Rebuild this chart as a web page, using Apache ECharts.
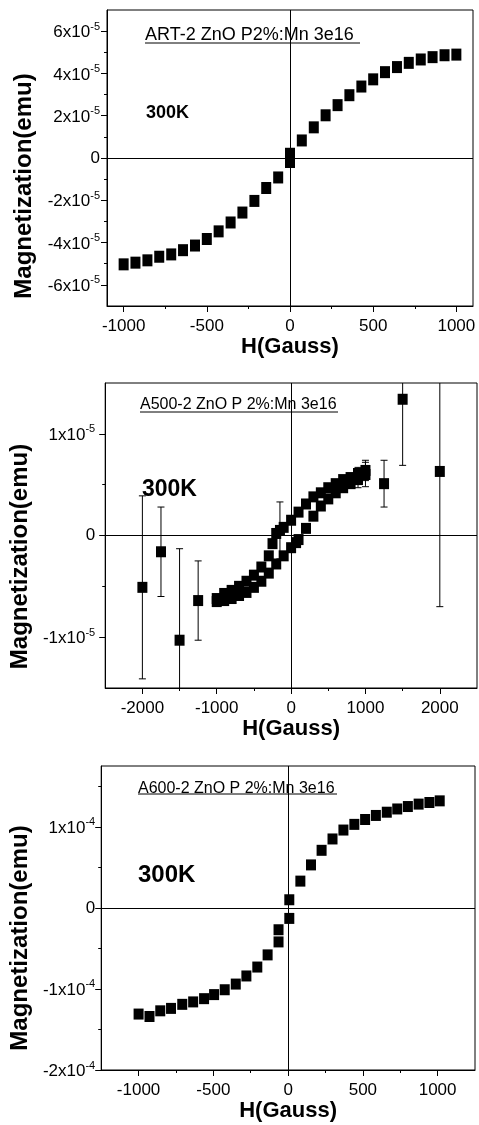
<!DOCTYPE html>
<html>
<head>
<meta charset="utf-8">
<script src="https://cdn.jsdelivr.net/npm/echarts@6/dist/echarts.min.js"></script>
<style>
 html, body { margin: 0; background: #fff; }
 #chart { width: 479px; height: 1125px; }
</style>
</head>
<body>
<div id="chart"></div>
<script>
const FONT = '"Liberation Sans", Arial, sans-serif'

// top panel: ART-2
const artH = [-1000, -929, -857, -786, -714, -643, -571, -500, -429, -357, -286, -214, -143, -71, 0, 0,
 71, 143, 214, 286, 357, 429, 500, 571, 643, 714, 786, 857, 929, 1000]
const artM = [-5.03e-5, -4.95e-5, -4.84e-5, -4.67e-5, -4.56e-5, -4.36e-5, -4.14e-5, -3.83e-5, -3.47e-5, -3.05e-5,
 -2.58e-5, -2.03e-5, -1.42e-5, -0.92e-5, -0.19e-5, 0.20e-5, 0.83e-5, 1.45e-5, 2.02e-5, 2.50e-5,
 2.97e-5, 3.38e-5, 3.72e-5, 4.06e-5, 4.30e-5, 4.50e-5, 4.66e-5, 4.77e-5, 4.86e-5, 4.89e-5]

// middle panel: A500-2, high field points with error bars
const a5OutH = [-2000, -1750, -1500, -1250, 1250, 1500, 2000]
const a5OutM = [-0.51e-5, -0.16e-5, -1.03e-5, -0.64e-5, 0.51e-5, 1.34e-5, 0.63e-5]
const a5OutErr = [0.90e-5, 0.44e-5, 0.90e-5, 0.39e-5, 0.23e-5, 0.65e-5, 1.33e-5]
// loop, field going down
const a5DownH = [1000, 900, 800, 700, 600, 500, 400, 300, 200, 100, 0, -100, -150, -200, -250, -300,
 -400, -500, -600, -700, -800, -900, -1000]
const a5DownM = [0.64e-5, 0.61e-5, 0.57e-5, 0.55e-5, 0.51e-5, 0.47e-5, 0.42e-5, 0.38e-5, 0.31e-5, 0.23e-5,
 0.15e-5, 0.08e-5, 0.05e-5, 0.02e-5, -0.08e-5, -0.20e-5, -0.31e-5, -0.39e-5, -0.45e-5, -0.50e-5,
 -0.54e-5, -0.57e-5, -0.62e-5]
const a5DownErr = [0.10e-5, 0.06e-5, 0, 0, 0, 0, 0, 0, 0, 0, 0, 0, 0.28e-5, 0, 0, 0, 0, 0, 0, 0, 0, 0, 0]
// loop, field going up
const a5UpH = [-1000, -900, -800, -700, -600, -500, -400, -300, -200, -100, 0, 67, 100, 200, 300, 400,
 500, 600, 700, 800, 900, 1000]
const a5UpM = [-0.65e-5, -0.64e-5, -0.62e-5, -0.59e-5, -0.56e-5, -0.51e-5, -0.45e-5, -0.37e-5, -0.28e-5,
 -0.20e-5, -0.12e-5, -0.07e-5, -0.04e-5, 0.07e-5, 0.19e-5, 0.29e-5, 0.36e-5, 0.42e-5, 0.47e-5,
 0.51e-5, 0.55e-5, 0.60e-5]
const a5UpErr = [0.03e-5, 0, 0, 0, 0, 0, 0, 0, 0, 0, 0, 0, 0, 0, 0, 0, 0, 0, 0, 0, 0.08e-5, 0.12e-5]

// bottom panel: A600-2
const a6H = [-1000, -927, -855, -783, -708, -635, -562, -495, -424, -350, -279, -206, -137, -64, -64, 8, 8,
 82, 153, 224, 297, 370, 443, 515, 587, 660, 730, 801, 873, 945, 1014]
const a6M = [-1.31e-4, -1.34e-4, -1.27e-4, -1.24e-4, -1.19e-4, -1.16e-4, -1.12e-4, -1.07e-4, -1.01e-4, -0.94e-4,
 -0.84e-4, -0.73e-4, -0.58e-4, -0.42e-4, -0.27e-4, -0.13e-4, 0.10e-4, 0.33e-4, 0.53e-4, 0.71e-4,
 0.85e-4, 0.96e-4, 1.03e-4, 1.09e-4, 1.14e-4, 1.18e-4, 1.22e-4, 1.25e-4, 1.28e-4, 1.30e-4, 1.32e-4]

// ticks
const xTicks = [[-1000, -500, 0, 500, 1000], [-2000, -1000, 0, 1000, 2000], [-1000, -500, 0, 500, 1000]]
const xMinor = [[-750, -250, 250, 750], [-1500, -500, 500, 1500], [-750, -250, 250, 750]]
const yTicks = [[-6e-5, -4e-5, -2e-5, 0, 2e-5, 4e-5, 6e-5], [-1e-5, 0, 1e-5], [-2e-4, -1e-4, 0, 1e-4]]
const yMinor = [[-5e-5, -3e-5, -1e-5, 1e-5, 3e-5, 5e-5], [-0.5e-5, 0.5e-5], [-1.5e-4, -0.5e-4, 0.5e-4, 1.5e-4]]
const yExp = [-5, -5, -4]
const titles = ['ART-2 ZnO P2%:Mn 3e16', 'A500-2 ZnO P 2%:Mn 3e16', 'A600-2 ZnO P 2%:Mn 3e16']

// panel geometry
const panels = [
 { grid: { left: 107, top: 10, width: 366, height: 296 }, x: [-1100, 1100], y: [-7e-5, 7e-5],
 xGap: 30, yGap: 62, yShift: 56, yMargin: 7, sym: [10, 12],
 title: { x: 145, y: 26, w: 215, ul: 43, size: 18 }, temp: { x: 146, y: 104, size: 18 } },
 { grid: { left: 102, top: 383, width: 375, height: 305 }, x: [-2500, 2500], y: [-1.5e-5, 1.5e-5],
 xGap: 24, yGap: 66, yShift: 42, yMargin: 10, sym: [10, 11],
 title: { x: 140, y: 397, w: 198, ul: 412, size: 16 }, temp: { x: 142, y: 478, size: 23 } },
 { grid: { left: 100, top: 766, width: 375, height: 304 }, x: [-1250, 1250], y: [-2e-4, 1.75e-4],
 xGap: 27, yGap: 64, yShift: 40, yMargin: 6, sym: [10, 11],
 title: { x: 138, y: 781, w: 199, ul: 794, size: 16 }, temp: { x: 138, y: 863, size: 24 } },
]

const black = { color: '#000', width: 1 }

function sciLabel(exp) {
 return v => {
 const m = Math.round(v / Math.pow(10, exp))
 return m === 0 ? '0' : `{m|${m}x10}{e|${exp}}`
 }
}

const xAxis = []
const yAxis = []
panels.forEach((p, i) => {
 xAxis[i] = {
 type: 'value', gridIndex: i, position: 'bottom', min: p.x[0], max: p.x[1],
 axisLine: { onZero: false, lineStyle: black },
 axisTick: { customValues: xTicks[i], length: 6, lineStyle: black },
 axisLabel: { customValues: xTicks[i], formatter: v => String(v), fontSize: 17, color: '#000', fontFamily: FONT, margin: 12 },
 splitLine: { show: false },
 name: 'H(Gauss)', nameLocation: 'middle', nameGap: p.xGap,
 nameTextStyle: { fontSize: 22, fontWeight: 'bold', color: '#000', fontFamily: FONT },
 }
 yAxis[i] = {
 type: 'value', gridIndex: i, position: 'left', min: p.y[0], max: p.y[1],
 axisLine: { onZero: false, lineStyle: black },
 axisTick: { customValues: yTicks[i], length: 6, lineStyle: black },
 axisLabel: {
 customValues: yTicks[i], formatter: sciLabel(yExp[i]), fontSize: 17, color: '#000', fontFamily: FONT, margin: p.yMargin,
 rich: {
 m: { fontSize: 17, color: '#000', fontFamily: FONT, lineHeight: 20, verticalAlign: 'bottom' },
 e: { fontSize: 11, color: '#000', fontFamily: FONT, lineHeight: 11, verticalAlign: 'top' },
 },
 },
 splitLine: { show: false },
 name: 'Magnetization(emu)', nameLocation: 'middle', nameGap: p.yGap,
 nameTextStyle: { fontSize: 24, fontWeight: 'bold', color: '#000', fontFamily: FONT, padding: [0, p.yShift, 0, 0] },
 }
 // short minor ticks on a second, bare axis
 xAxis[i + 3] = {
 type: 'value', gridIndex: i, position: 'bottom', min: p.x[0], max: p.x[1],
 axisLine: { show: false, onZero: false }, axisLabel: { show: false }, splitLine: { show: false },
 axisTick: { customValues: xMinor[i], length: 3, lineStyle: black },
 }
 yAxis[i + 3] = {
 type: 'value', gridIndex: i, position: 'left', min: p.y[0], max: p.y[1],
 axisLine: { show: false, onZero: false }, axisLabel: { show: false }, splitLine: { show: false },
 axisTick: { customValues: yMinor[i], length: 3, lineStyle: black },
 }
})

const zeroLines = {
 silent: true, symbol: 'none', animation: false,
 label: { show: false },
 lineStyle: { color: '#000', width: 1, type: 'solid' },
 data: [{ xAxis: 0 }, { yAxis: 0 }],
}

function squares(i, hs, ms, withZero) {
 return {
 type: 'scatter', xAxisIndex: i, yAxisIndex: i,
 data: hs.map((h, k) => [h, ms[k]]),
 symbol: 'rect', symbolSize: panels[i].sym,
 itemStyle: { color: '#000', opacity: 1 },
 markLine: withZero ? zeroLines : undefined,
 }
}

function errBar(params, api) {
 const e = api.value(2)
 if (!e) return null
 const x = api.value(0)
 const y = api.value(1)
 const top = api.coord([x, y + e])
 const bot = api.coord([x, y - e])
 const w = 3.5
 const style = { stroke: '#000', lineWidth: 1 }
 return {
 type: 'group',
 children: [
 { type: 'line', shape: { x1: top[0], y1: top[1], x2: bot[0], y2: bot[1] }, style },
 { type: 'line', shape: { x1: top[0] - w, y1: top[1], x2: top[0] + w, y2: top[1] }, style },
 { type: 'line', shape: { x1: bot[0] - w, y1: bot[1], x2: bot[0] + w, y2: bot[1] }, style },
 ],
 }
}

const errData = []
a5OutH.forEach((h, k) => errData.push([h, a5OutM[k], a5OutErr[k]]))
a5DownH.forEach((h, k) => errData.push([h, a5DownM[k], a5DownErr[k]]))
a5UpH.forEach((h, k) => errData.push([h, a5UpM[k], a5UpErr[k]]))

const graphic = []
panels.forEach((p, i) => {
 graphic.push({
 type: 'text', left: p.title.x, top: p.title.y,
 style: { text: titles[i], font: `${p.title.size}px ${FONT}`, fill: '#000' },
 })
 graphic.push({
 type: 'line', shape: { x1: p.title.x, y1: p.title.ul, x2: p.title.x + p.title.w, y2: p.title.ul },
 style: { stroke: '#000', lineWidth: 1 },
 })
 graphic.push({
 type: 'text', left: p.temp.x, top: p.temp.y,
 style: { text: '300K', font: `bold ${p.temp.size}px ${FONT}`, fill: '#000' },
 })
})

const chart = echarts.init(document.getElementById('chart'))
chart.setOption({
 animation: false,
 backgroundColor: '#fff',
 grid: panels.map(p => ({ ...p.grid, show: true, borderColor: '#000', borderWidth: 1, backgroundColor: 'transparent' })),
 xAxis,
 yAxis,
 series: [
 squares(0, artH, artM, true),
 {
 type: 'custom', xAxisIndex: 1, yAxisIndex: 1, renderItem: errBar, clip: true, z: 1,
 encode: { x: 0, y: 1 }, data: errData,
 },
 squares(1, a5OutH, a5OutM, true),
 squares(1, a5DownH, a5DownM, false),
 squares(1, a5UpH, a5UpM, false),
 squares(2, a6H, a6M, true),
 ],
 graphic,
})
</script>
</body>
</html>
